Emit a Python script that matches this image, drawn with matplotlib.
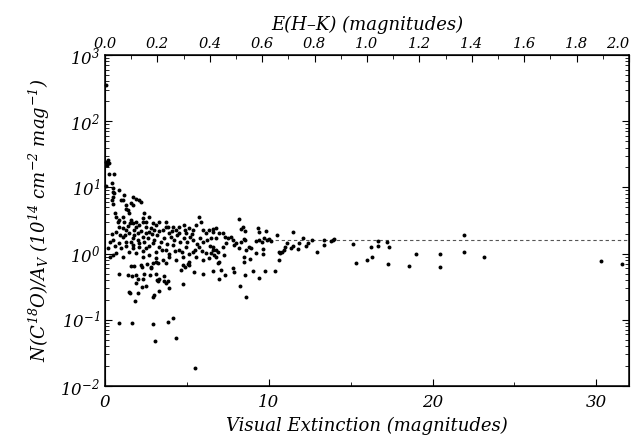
import matplotlib
matplotlib.use("Agg")
import matplotlib.pyplot as plt
from matplotlib.ticker import LogLocator, MultipleLocator, NullFormatter, FixedLocator

plt.rcParams['font.family'] = ['DejaVu Serif']
plt.rcParams['font.style'] = 'italic'
plt.rcParams['mathtext.fontset'] = 'custom'
plt.rcParams['mathtext.rm'] = 'DejaVu Serif:italic'
plt.rcParams['mathtext.it'] = 'DejaVu Serif:italic'

# ---- data: (visual extinction Av, N(C18O)/Av) ----
av_top = [0.08, 0.08, 0.07, 0.17, 0.23, 0.12, 0.27, 0.57, 0.43,
          0.47, 0.50, 0.47, 0.45, 0.47, 0.55,
          0.88, 1.19, 1.08, 0.98, 1.29,
          1.69, 1.90, 2.10, 2.20, 1.59, 1.69, 1.39, 1.49, 1.29,
          0.64, 0.68, 0.78, 0.88, 1.08, 1.19]
val_top = [350, 10.5, 24.5, 26, 23, 22, 16, 16, 11.5,
           9.7, 8.6, 7.2, 6.5, 5.7, 8.1,
           9.1, 7.7, 6.5, 6.5, 5.4,
           7.2, 6.6, 6.5, 6.1, 5.75, 5.4, 4.6, 4.1, 4.8,
           4.1, 3.6, 3.0, 3.2, 3.6, 3.0]

av_mid = [1.59, 1.69, 1.90, 1.80, 2.10, 2.30, 2.51, 2.41, 2.71, 2.92, 3.12, 3.02,
          2.71, 2.51, 2.30, 2.00, 1.69, 1.49, 1.29, 1.08, 0.88, 0.68,
          3.32, 3.52, 3.73, 3.83, 3.93, 4.14, 4.34, 4.54, 4.85, 4.95, 5.16, 5.36,
          5.56, 5.77, 5.87, 5.97, 6.18, 6.38, 6.58, 6.79]
val_mid = [3.2, 2.9, 3.04, 2.27, 2.7, 3.4, 3.04, 4.1, 3.6, 2.9, 2.7, 2.27,
           2.14, 2.02, 1.8, 2.02, 1.7, 2.02, 2.27, 1.8, 2.55, 2.14,
           3.04, 2.27, 3.04, 2.55, 2.02, 2.55, 2.27, 2.02, 2.7, 2.02, 2.4, 2.27,
           2.7, 3.6, 3.04, 2.27, 2.02, 2.27, 2.14, 1.7]

av_core = [0.47, 0.88, 1.29, 1.69, 2.10, 2.51, 2.92, 3.32, 3.73, 4.14, 4.54, 4.95,
           5.36, 5.77, 6.18, 6.58,
           0.68, 1.08, 1.49, 1.90, 2.30, 2.71, 3.12, 3.52, 3.93, 4.34, 4.75, 5.16,
           5.56, 5.97, 6.38, 6.79,
           1.0, 1.2, 1.4, 1.6, 1.8, 2.0, 2.2, 2.4, 2.6, 2.8, 3.0, 3.2, 3.4, 3.6,
           3.8, 4.0, 4.2, 4.4, 4.6, 4.8, 5.0, 5.2, 5.4, 5.6, 5.8, 6.0, 6.2, 6.4,
           2.3, 2.7, 3.1, 3.5, 3.9, 4.3, 4.7, 5.1, 5.5, 5.9, 1.3, 1.7, 2.1, 2.5,
           2.9, 3.3, 3.7, 4.1, 4.5, 4.9, 5.3, 0.9, 1.1, 1.5, 1.9, 2.3, 0.6, 0.3,
           0.4, 0.2, 0.5, 0.3]
val_core = [1.6, 1.43, 1.51, 1.35, 1.27, 1.2, 1.43, 1.27, 1.13, 1.35, 1.13, 1.27,
            1.07, 1.27, 1.01, 1.13,
            1.01, 0.90, 1.07, 1.01, 0.90, 0.95, 0.85, 0.80, 0.90, 0.80, 0.90, 0.75,
            0.90, 0.80, 0.85, 0.90,
            1.2, 1.9, 2.6, 1.5, 1.9, 1.6, 2.2, 1.5, 1.7, 2.4, 1.6, 1.9, 1.5, 1.7,
            1.4, 1.8, 1.6, 1.9, 1.5, 1.7, 1.5, 1.8, 1.6, 1.4, 1.7, 1.5, 1.6, 1.3,
            1.1, 1.3, 1.05, 1.15, 1.0, 1.1, 1.05, 1.0, 1.15, 1.1, 1.3, 1.2, 1.45, 2.5,
            2.0, 2.2, 2.5, 2.2, 2.5, 2.3, 2.0, 1.9, 2.4, 2.9, 2.5, 3.0, 1.3, 1.5,
            2.0, 1.2, 0.95, 0.9]

av_low = [1.59, 1.76, 2.20, 2.27, 2.55, 2.81, 2.92, 3.12, 3.22, 3.73, 4.65, 4.75,
          4.91, 5.05, 5.16, 5.46, 6.01,
          0.88, 1.39, 1.63, 1.90, 2.00, 1.90, 2.30, 2.41, 2.75, 2.81, 3.12, 3.16,
          3.22, 3.32, 3.63, 3.63, 3.73, 3.83, 3.93, 3.28, 3.02, 2.92, 2.51, 2.24,
          2.04, 1.84, 1.53, 1.45, 4.75,
          0.88, 1.65, 2.92, 3.83, 4.18, 3.08, 4.34, 5.50]
val_low = [0.66, 0.65, 0.67, 0.62, 0.70, 0.62, 0.73, 0.75, 0.73, 0.73, 0.57, 0.67,
           0.63, 0.70, 0.67, 0.53, 0.49,
           0.49, 0.48, 0.46, 0.48, 0.42, 0.36, 0.41, 0.50, 0.48, 0.60, 0.50, 0.40,
           0.39, 0.41, 0.46, 0.39, 0.36, 0.39, 0.30, 0.27, 0.24, 0.22, 0.32, 0.31,
           0.25, 0.19, 0.25, 0.26, 0.35,
           0.089, 0.089, 0.087, 0.092, 0.105, 0.048, 0.054, 0.019]

av_right = [15.17, 15.3, 14.0, 13.9, 13.8, 13.4, 13.36, 12.93, 12.65, 12.4, 12.3,
            12.08, 11.87, 11.77, 11.5, 11.47, 11.37, 11.1, 11.0, 10.94, 10.8, 10.7,
            10.6, 10.65, 10.49, 10.4, 10.15, 10.04, 9.88, 9.74, 9.6, 9.43, 9.23,
            9.84, 9.43, 9.37, 8.52, 8.41, 8.31, 8.21, 9.63, 9.63, 9.23, 9.8, 9.39,
            9.02, 8.9, 8.8, 8.6, 8.86, 8.47, 8.47, 8.58, 8.25, 8.62, 8.5, 8.58, 8.3,
            8.17, 7.9, 7.97, 7.8, 7.7, 7.5, 7.4, 7.3, 7.19, 6.99, 6.78, 6.58, 6.48,
            7.19, 6.88, 6.78, 6.58, 6.68, 6.48, 6.99, 6.88, 7.29, 7.8, 7.9, 7.35,
            7.09, 6.58, 6.99,
            15.99, 16.3, 16.27, 16.7, 16.66, 17.25, 17.33, 17.3, 18.58, 19.0, 20.47,
            20.47, 21.95, 21.93, 23.16, 30.26, 31.6]
val_right = [1.38, 0.71, 1.66, 1.62, 1.57, 1.6, 1.35, 1.05, 1.6, 1.43, 1.3,
             1.7, 1.46, 1.17, 2.1, 1.3, 1.2, 1.43, 1.27, 1.13, 1.07, 1.01,
             1.05, 0.80, 1.91, 0.55, 1.55, 1.66, 1.58, 1.7, 1.52, 1.63, 1.57,
             2.2, 2.1, 2.4, 2.2, 2.55, 2.35, 3.3, 0.98, 1.17, 1.03, 0.55, 0.43,
             0.55, 1.2, 1.27, 1.13, 0.83, 0.88, 0.74, 0.48, 0.32, 0.22, 1.64, 1.6, 1.5,
             1.2, 1.35, 1.43, 1.6, 1.8, 1.7, 1.43, 1.76, 2.03, 2.03, 2.4, 2.33, 1.7,
             1.27, 1.07, 1.13, 1.27, 0.95, 1.01, 0.75, 0.73, 0.95, 0.6, 0.53, 0.47,
             0.56, 0.55, 0.42,
             0.80, 0.90, 1.27, 1.55, 1.32, 1.48, 1.26, 0.69, 0.66, 0.98, 0.99,
             0.62, 1.93, 1.05, 0.90, 0.78, 0.70]

mean_ratio = 1.6
mean_range = [10.0, 32.0]

av_all = av_top + av_mid + av_core + av_low + av_right
val_all = val_top + val_mid + val_core + val_low + val_right

fig = plt.figure(figsize=(6.33, 4.37), dpi=100)
ax = fig.add_axes([105/633, 51/437, 524/633, 331/437])

ax.scatter(av_all, val_all, s=8, c='black', linewidths=0, zorder=3, clip_on=False)
ax.plot(mean_range, [mean_ratio, mean_ratio], color='#555555', lw=0.8,
        dashes=(3, 2.5), zorder=2)

ax.set_yscale('log')
ax.set_ylim(1e-2, 1e3)
ax.set_xlim(0, 32)
ax.xaxis.set_major_locator(FixedLocator([0, 10, 20, 30]))
ax.xaxis.set_minor_locator(MultipleLocator(5))
ax.yaxis.set_major_locator(LogLocator(base=10, numticks=10))
ax.yaxis.set_minor_locator(LogLocator(base=10, subs=range(2, 10), numticks=20))
ax.yaxis.set_minor_formatter(NullFormatter())
ax.tick_params(which='both', direction='in', top=False, right=True, labelsize=12)
ax.tick_params(which='major', length=5)
ax.tick_params(which='minor', length=3)
ax.tick_params(axis='x', pad=6)
for s in ax.spines.values():
    s.set_linewidth(1.1)

ax.set_xlabel('Visual Extinction (magnitudes)', fontsize=13, labelpad=4)
ax.set_ylabel(r'$N(C^{18}O)/A_V\ (10^{14}\ cm^{-2}\ mag^{-1})$', fontsize=13, labelpad=6)

ax2 = ax.twiny()
ax2.set_xlim(0, 2.0)
ax2.xaxis.set_major_locator(MultipleLocator(0.2))
ax2.xaxis.set_minor_locator(MultipleLocator(0.1))
ax2.xaxis.set_major_formatter(matplotlib.ticker.FormatStrFormatter('%.1f'))
ax2.tick_params(which='both', direction='in', labelsize=10.5, pad=3)
ax2.tick_params(which='major', length=5)
ax2.tick_params(which='minor', length=3)
ax2.set_xlabel('E(H–K) (magnitudes)', fontsize=13, labelpad=5)

fig.canvas.draw()
labels = ax2.get_xticklabels()
for lab in labels:
    if lab.get_text() == '2.0':
        lab.set_horizontalalignment('right')
        lab.set_x(lab.get_position()[0])

fig.savefig('out.png', dpi=100)
